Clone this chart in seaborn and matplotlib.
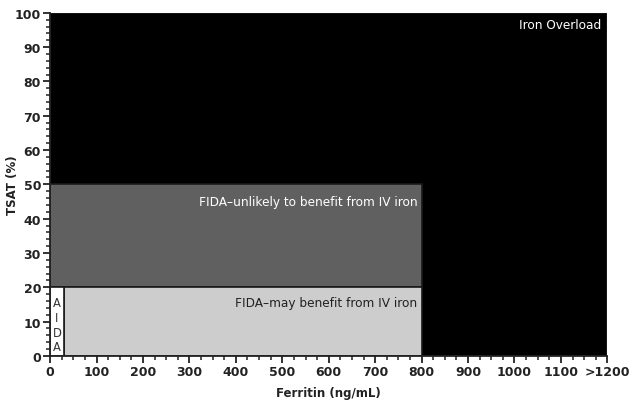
import matplotlib
matplotlib.use("Agg")
import matplotlib.pyplot as plt
import seaborn as sns
from matplotlib.ticker import MultipleLocator

sns.set_theme(style="ticks")
plt.rcParams['font.family'] = ['DejaVu Sans']

# Regions (ferritin range, TSAT range)
region_names = ["Iron Overload", "FIDA-unlikely", "FIDA-may", "AIDA"]
ferritin_lo = [0, 0, 30, 0]
ferritin_hi = [1200, 800, 800, 30]
tsat_lo = [0, 20, 0, 0]
tsat_hi = [100, 50, 20, 20]
region_colors = ["#000000", "#606060", "#cdcdcd", "#ffffff"]

x_ticks = [0, 100, 200, 300, 400, 500, 600, 700, 800, 900, 1000, 1100, 1200]
x_tick_labels = ["0", "100", "200", "300", "400", "500", "600", "700", "800",
                 "900", "1000", "1100", ">1200"]
y_ticks = [0, 10, 20, 30, 40, 50, 60, 70, 80, 90, 100]

fig = plt.figure(figsize=(6.34, 4.06), dpi=100)
ax = fig.add_axes([0.079, 0.121, 0.879, 0.845])

widths = [h - l for l, h in zip(ferritin_lo, ferritin_hi)]
heights = [h - l for l, h in zip(tsat_lo, tsat_hi)]
ax.bar(ferritin_lo, heights, width=widths, bottom=tsat_lo, align="edge",
       color=region_colors, edgecolor="#1a1a1a", linewidth=1.2)

ax.set_xlim(0, 1200)
ax.set_ylim(0, 100)
ax.set_xticks(x_ticks)
ax.set_xticklabels(x_tick_labels)
ax.set_yticks(y_ticks)
ax.xaxis.set_minor_locator(MultipleLocator(25))
ax.yaxis.set_minor_locator(MultipleLocator(2))
ax.tick_params(axis="both", which="major", length=5, width=1.3, labelsize=9,
               color="#222222", pad=1.5)
ax.tick_params(axis="both", which="minor", length=3, width=1.1, color="#222222")
for lab in ax.get_xticklabels() + ax.get_yticklabels():
    lab.set_fontweight("bold")
    lab.set_color("#222222")

for side in ["top", "right"]:
    ax.spines[side].set_visible(False)
for side in ["left", "bottom"]:
    ax.spines[side].set_linewidth(1.3)
    ax.spines[side].set_color("#222222")

ax.set_xlabel("Ferritin (ng/mL)", fontsize=8.5, fontweight="bold", color="#222222")
ax.set_ylabel("TSAT (%)", fontsize=8.5, fontweight="bold", color="#222222")
ax.xaxis.set_label_coords(0.5, -0.088)
ax.yaxis.set_label_coords(-0.055, 0.5)

ax.text(1186, 96.7, "Iron Overload", color="white", fontsize=8.7, ha="right", va="center")
ax.text(791, 45, "FIDA\u2013unlikely to benefit from IV iron", color="white",
        fontsize=8.7, ha="right", va="center")
ax.text(791, 15.7, "FIDA\u2013may benefit from IV iron", color="#222222",
        fontsize=8.7, ha="right", va="center")
for i, ch in enumerate("AIDA"):
    ax.text(15, 15.5 - i * 4.3, ch, color="#333333", fontsize=8.3, ha="center", va="center")

fig.savefig("out.png", dpi=100)
